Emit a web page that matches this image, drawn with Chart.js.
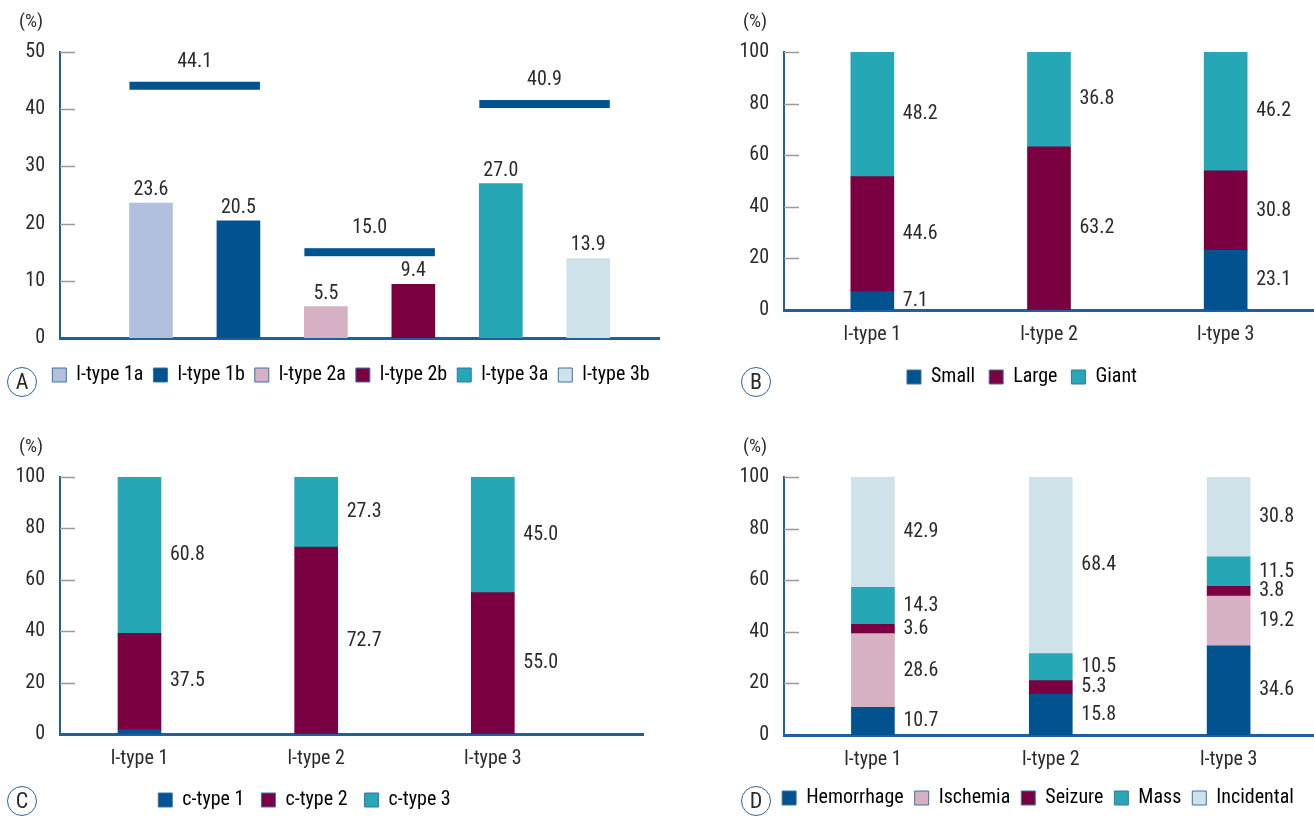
<!DOCTYPE html>
<html>
<head>
<meta charset="utf-8">
<script src="https://cdn.jsdelivr.net/npm/chart.js@4.4.1/dist/chart.umd.min.js"></script>
<style>
    body { margin: 0; background: #fff; width: 1314px; height: 816px; position: relative; overflow: hidden;
           font-family: Roboto, sans-serif; font-stretch: condensed; color: #2b2b2b; }
    canvas { position: absolute; }
    .pct { position: absolute; font-size: 19px; line-height: 1; }
    .tag { position: absolute; width: 28px; height: 28px; border: 1.5px solid #2a64a0; border-radius: 50%;
           font-size: 22px; line-height: 28px; text-align: center; }
</style>
</head>
<body>
<canvas id="chartA" style="left:0;top:0" width="660" height="400"></canvas>
<canvas id="chartB" style="left:660px;top:0" width="654" height="400"></canvas>
<canvas id="chartC" style="left:0;top:420px" width="660" height="396"></canvas>
<canvas id="chartD" style="left:660px;top:420px" width="654" height="396"></canvas>

<div class="pct" style="left:19px;top:11px">(%)</div>
<div class="pct" style="left:743px;top:11px">(%)</div>
<div class="pct" style="left:19px;top:436px">(%)</div>
<div class="pct" style="left:743px;top:436px">(%)</div>
<div class="tag" style="left:7px;top:367px">A</div>
<div class="tag" style="left:741px;top:367px">B</div>
<div class="tag" style="left:7px;top:786px">C</div>
<div class="tag" style="left:741px;top:786px">D</div>

<script>
// ---- data ----
const aCategories = ['l-type 1a', 'l-type 1b', 'l-type 2a', 'l-type 2b', 'l-type 3a', 'l-type 3b'];
const aValues = [23.6, 20.5, 5.5, 9.4, 27.0, 13.9];
const aGroupValues = [44.1, 15.0, 40.9];
const aYTicks = [0, 10, 20, 30, 40, 50];

const lTypes = ['l-type 1', 'l-type 2', 'l-type 3'];
const pctTicks = [0, 20, 40, 60, 80, 100];

const bSmall = [7.1, 0, 23.1];
const bLarge = [44.6, 63.2, 30.8];
const bGiant = [48.2, 36.8, 46.2];

const cType1 = [1.7, 0, 0];
const cType2 = [37.5, 72.7, 55.0];
const cType3 = [60.8, 27.3, 45.0];

const dHemorrhage = [10.7, 15.8, 34.6];
const dIschemia = [28.6, 0, 19.2];
const dSeizure = [3.6, 5.3, 3.8];
const dMass = [14.3, 10.5, 11.5];
const dIncidental = [42.9, 68.4, 30.8];

// ---- styles ----
const NAVY = '#00538f';
const LAVENDER = '#b2bfdd';
const PINK = '#d6b1c3';
const MAROON = '#7a0041';
const TEAL = '#25a7b5';
const ICE = '#cde3e9';
const AXIS = '#1f5f9f';
const TEXT = '#2b2b2b';
const FONT = 'Roboto, sans-serif';
const LABEL_FONT = 'condensed 20px ' + FONT;

Chart.defaults.font.family = FONT;
Chart.defaults.font.weight = 'condensed';   // ends up as font-stretch in the canvas font string
Chart.defaults.font.size = 20;
Chart.defaults.color = TEXT;
Chart.defaults.animation = false;

const aColors = [LAVENDER, NAVY, PINK, MAROON, TEAL, ICE];

// grey tick marks drawn inside the plot, right of the y axis
const innerTicks = {
    id: 'innerTicks',
    afterDraw(chart) {
        const y = chart.scales.y;
        const ctx = chart.ctx;
        ctx.save();
        ctx.strokeStyle = '#9a9a9a';
        ctx.lineWidth = 1.5;
        y.ticks.forEach(t => {
            if (t.value === 0) return;
            const py = Math.round(y.getPixelForValue(t.value)) + 0.5;
            ctx.beginPath();
            ctx.moveTo(chart.chartArea.left, py);
            ctx.lineTo(chart.chartArea.left + 15, py);
            ctx.stroke();
        });
        ctx.restore();
    }
};

// put the legend a fixed distance under the plot and nudge it sideways
const legendShift = {
    id: 'legendShift',
    afterLayout(chart, args, opts) {
        const lg = chart.legend;
        const h = lg.bottom - lg.top;
        lg.left += opts.dx || 0;
        lg.right += opts.dx || 0;
        lg.top = chart.chartArea.bottom + opts.below;
        lg.bottom = lg.top + h;
    }
};

// value labels: above bars (panel A) or right of each stacked segment
const valueLabels = {
    id: 'valueLabels',
    afterDatasetsDraw(chart, args, opts) {
        const ctx = chart.ctx;
        ctx.save();
        ctx.fillStyle = TEXT;
        ctx.font = LABEL_FONT;
        ctx.textBaseline = 'middle';
        chart.data.datasets.forEach((ds, di) => {
            const meta = chart.getDatasetMeta(di);
            meta.data.forEach((bar, i) => {
                const v = ds.data[i].y;
                if (v < 1.8) return;
                if (opts.mode === 'top') {
                    ctx.textAlign = 'center';
                    ctx.fillText(v.toFixed(1), bar.x, bar.y - 13);
                } else {
                    ctx.textAlign = 'left';
                    ctx.fillText(v.toFixed(1), bar.x + bar.width / 2 + 9, (bar.y + bar.base) / 2);
                }
            });
        });
        ctx.restore();
    }
};

// group total bars in panel A, spanning each pair of bars
const groupLines = {
    id: 'groupLines',
    afterDatasetsDraw(chart) {
        const ctx = chart.ctx;
        const y = chart.scales.y;
        ctx.save();
        aGroupValues.forEach((gv, g) => {
            const b0 = chart.getDatasetMeta(g * 2).data[0];
            const b1 = chart.getDatasetMeta(g * 2 + 1).data[0];
            const left = b0.x - b0.width / 2;
            const right = b1.x + b1.width / 2;
            const py = y.getPixelForValue(gv);
            ctx.fillStyle = NAVY;
            ctx.fillRect(left, py - 4, right - left, 8);
            ctx.fillStyle = TEXT;
            ctx.font = LABEL_FONT;
            ctx.textAlign = 'center';
            ctx.textBaseline = 'middle';
            ctx.fillText(gv.toFixed(1), (left + right) / 2, py - 24);
        });
        ctx.restore();
    }
};

function legendOptions(gap, dx, below) {
    return {
        legend: {
            position: 'bottom',
            labels: {
                boxWidth: 14,
                boxHeight: 14,
                padding: gap,
                color: TEXT,
                font: { size: 20 },
                generateLabels(chart) {
                    return chart.data.datasets.map((ds, i) => ({
                        text: ds.label,
                        fillStyle: ds.backgroundColor,
                        strokeStyle: '#3a72ad',
                        lineWidth: 1,
                        hidden: false,
                        datasetIndex: i
                    }));
                }
            }
        },
        legendShift: { dx: dx, below: below },
        tooltip: { enabled: false }
    };
}

function yScale(max, ticks, width) {
    return {
        min: 0,
        max: max,
        stacked: true,
        afterFit(s) { s.width = width; },
        afterBuildTicks(s) { s.ticks = ticks.map(v => ({ value: v })); },
        grid: { display: false, drawTicks: false },
        border: { display: true, color: AXIS, width: 2 },
        ticks: { padding: 15, color: TEXT, font: { size: 20 } }
    };
}

function xScale(min, max, showLabels, height) {
    return {
        type: 'linear',
        min: min,
        max: max,
        offset: false,
        stacked: true,
        afterFit(s) { s.height = height; },
        afterBuildTicks(s) { s.ticks = showLabels ? lTypes.map((c, i) => ({ value: i + 1 })) : []; },
        grid: { display: false, drawTicks: false },
        border: { display: true, color: AXIS, width: 3 },
        ticks: {
            display: showLabels,
            padding: 13,
            color: TEXT,
            font: { size: 20 },
            callback: v => lTypes[v - 1]
        }
    };
}

function stackDatasets(series) {
    return series.map(s => ({
        label: s.label,
        data: s.values.map((v, i) => ({ x: i + 1, y: v })),
        backgroundColor: s.color,
        borderWidth: 0,
        barThickness: 43
    }));
}

// ---- panel A ----
new Chart(document.getElementById('chartA'), {
    type: 'bar',
    data: {
        datasets: aCategories.map((c, i) => ({
            label: c,
            data: [{ x: i + 1, y: aValues[i] }],
            backgroundColor: aColors[i],
            borderWidth: 0,
            barThickness: 43,
            grouped: false
        }))
    },
    options: {
        responsive: false,
        layout: { padding: { top: 52, right: 0, left: 0, bottom: 2 } },
        plugins: Object.assign(legendOptions(10, 21, 17), { valueLabels: { mode: 'top' } }),
        scales: {
            x: xScale(-0.04, 6.82, false, 20),
            y: Object.assign(yScale(50, aYTicks, 60), { stacked: false })
        }
    },
    plugins: [innerTicks, legendShift, valueLabels, groupLines]
});

// ---- panel B ----
new Chart(document.getElementById('chartB'), {
    type: 'bar',
    data: {
        datasets: stackDatasets([
            { label: 'Small', values: bSmall, color: NAVY },
            { label: 'Large', values: bLarge, color: MAROON },
            { label: 'Giant', values: bGiant, color: TEAL }
        ])
    },
    options: {
        responsive: false,
        layout: { padding: { top: 52, right: 0, left: 0, bottom: 0 } },
        plugins: Object.assign(legendOptions(14, 35, 43), { valueLabels: { mode: 'side' } }),
        scales: {
            x: xScale(0.5, 3.5, true, 46),
            y: yScale(100, pctTicks, 124)
        }
    },
    plugins: [innerTicks, legendShift, valueLabels]
});

// ---- panel C ----
new Chart(document.getElementById('chartC'), {
    type: 'bar',
    data: {
        datasets: stackDatasets([
            { label: 'c-type 1', values: cType1, color: NAVY },
            { label: 'c-type 2', values: cType2, color: MAROON },
            { label: 'c-type 3', values: cType3, color: TEAL }
        ])
    },
    options: {
        responsive: false,
        layout: { padding: { top: 57, right: 17, left: 0, bottom: 0 } },
        plugins: Object.assign(legendOptions(17, -17, 39), { valueLabels: { mode: 'side' } }),
        scales: {
            x: xScale(0.55, 3.85, true, 35),
            y: yScale(100, pctTicks, 60)
        }
    },
    plugins: [innerTicks, legendShift, valueLabels]
});

// ---- panel D ----
new Chart(document.getElementById('chartD'), {
    type: 'bar',
    data: {
        datasets: stackDatasets([
            { label: 'Hemorrhage', values: dHemorrhage, color: NAVY },
            { label: 'Ischemia', values: dIschemia, color: PINK },
            { label: 'Seizure', values: dSeizure, color: MAROON },
            { label: 'Mass', values: dMass, color: TEAL },
            { label: 'Incidental', values: dIncidental, color: ICE }
        ])
    },
    options: {
        responsive: false,
        layout: { padding: { top: 57, right: 0, left: 0, bottom: 0 } },
        plugins: Object.assign(legendOptions(11, 51, 42), { valueLabels: { mode: 'side' } }),
        scales: {
            x: xScale(0.5, 3.48, true, 40),
            y: yScale(100, pctTicks, 124)
        }
    },
    plugins: [innerTicks, legendShift, valueLabels]
});
</script>
</body>
</html>
